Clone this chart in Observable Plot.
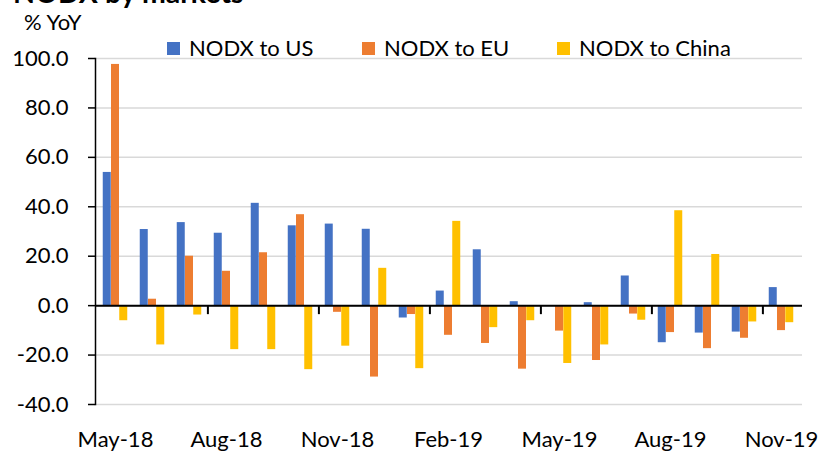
<!DOCTYPE html>
<html>
<head>
<meta charset="utf-8">
<script src="https://cdn.jsdelivr.net/npm/d3@7"></script>
<script src="https://cdn.jsdelivr.net/npm/@observablehq/plot@0.6"></script>
<style>
  html, body { margin: 0; padding: 0; background: #fff; }
  #wrap { position: relative; width: 822px; height: 451px; overflow: hidden; font-family: Lato, sans-serif; color: #000; }
  .abs { position: absolute; white-space: nowrap; line-height: 22px; font-size: 22px; }
  .sw { position: absolute; width: 13px; height: 13px; }
  #title { position: absolute; left: 13px; top: -21px; font-size: 28.5px; line-height: 26px; font-weight: bold; white-space: nowrap; }
  #chart { position: absolute; left: 0; top: 0; }
</style>
</head>
<body>
<div id="wrap">
  <div id="chart"></div>
  <div id="title">NODX by markets</div>
  <div class="abs" style="left:24px; top:11px;">% YoY</div>
  <div id="legend"></div>
</div>
<script>
const months = ["May-18","Jun-18","Jul-18","Aug-18","Sep-18","Oct-18","Nov-18","Dec-18","Jan-19","Feb-19","Mar-19","Apr-19","May-19","Jun-19","Jul-19","Aug-19","Sep-19","Oct-19","Nov-19"];
const us = [53.9,30.8,33.6,29.3,41.4,32.3,33.0,30.9,-5.0,5.9,22.6,1.6,0.0,1.2,12.0,-15.0,-11.1,-10.7,7.3];
const eu = [97.6,2.6,20.0,13.9,21.4,36.8,-2.7,-28.9,-3.6,-12.0,-15.3,-25.7,-10.3,-22.2,-3.4,-10.9,-17.4,-13.2,-10.1];
const cn = [-6.1,-15.9,-3.8,-17.8,-17.8,-25.9,-16.4,15.1,-25.5,34.1,-8.9,-6.1,-23.4,-15.9,-5.9,38.4,20.7,-6.6,-6.9];
const seriesNames = ["NODX to US","NODX to EU","NODX to China"];
const seriesColors = ["#4472C4","#ED7D31","#FFC000"];
const labelMonths = ["May-18","Aug-18","Nov-18","Feb-19","May-19","Aug-19","Nov-19"];
const yTicks = [-40,-20,0,20,40,60,80,100];

const W = 822, H = 451, mL = 95, mR = 20, mT = 58, mB = 47;
const step = (W - mL - mR) / months.length;
const barW = 8.25;
const pInner = 1 - barW / step;

const allSeries = [us, eu, cn];
const marks = [
  Plot.gridY(yTicks, {stroke: "#d9d9d9", strokeOpacity: 1, strokeWidth: 1.5}),
];
allSeries.forEach((vals, si) => {
  const rows = months.map((m, i) => ({month: m, value: vals[i]}));
  marks.push(Plot.barY(rows, {x: "month", y: "value", fill: seriesColors[si], dx: (si - 1) * barW}));
});
marks.push(
  Plot.ruleY([0], {stroke: "#000", strokeWidth: 2}),
  Plot.ruleX(labelMonths.slice(1), {x: d => d, y1: 0, y2: 0, dx: -step / 2, insetBottom: -9, stroke: "#000", strokeWidth: 2}),
  Plot.frame({anchor: "left", stroke: "#000", strokeWidth: 1.5}),
  Plot.axisY(yTicks, {label: null, tickFormat: d => d.toFixed(1), tickSize: 7, tickPadding: 20, fontSize: 22, stroke: "#000", strokeWidth: 1.5, color: "#000"}),
  Plot.axisX(labelMonths, {label: null, tickSize: 0, tickPadding: 27, fontSize: 22, color: "#000"})
);

const chart = Plot.plot({
  width: W, height: H,
  marginLeft: mL, marginRight: mR, marginTop: mT, marginBottom: mB,
  style: {fontFamily: "Lato, sans-serif", color: "#000", background: "transparent"},
  x: {type: "band", domain: months, paddingInner: pInner, paddingOuter: pInner / 2, label: null},
  y: {domain: [-40, 100], label: null},
  marks
});
document.getElementById("chart").appendChild(chart);

const legend = document.getElementById("legend");
const swX = [167, 362, 557];
seriesNames.forEach((name, i) => {
  const sw = document.createElement("div");
  sw.className = "sw";
  sw.style.left = swX[i] + "px";
  sw.style.top = "42px";
  sw.style.background = seriesColors[i];
  legend.appendChild(sw);
  const t = document.createElement("div");
  t.className = "abs";
  t.style.left = (swX[i] + 22) + "px";
  t.style.top = "36.5px";
  t.textContent = name;
  legend.appendChild(t);
});
</script>
</body>
</html>
